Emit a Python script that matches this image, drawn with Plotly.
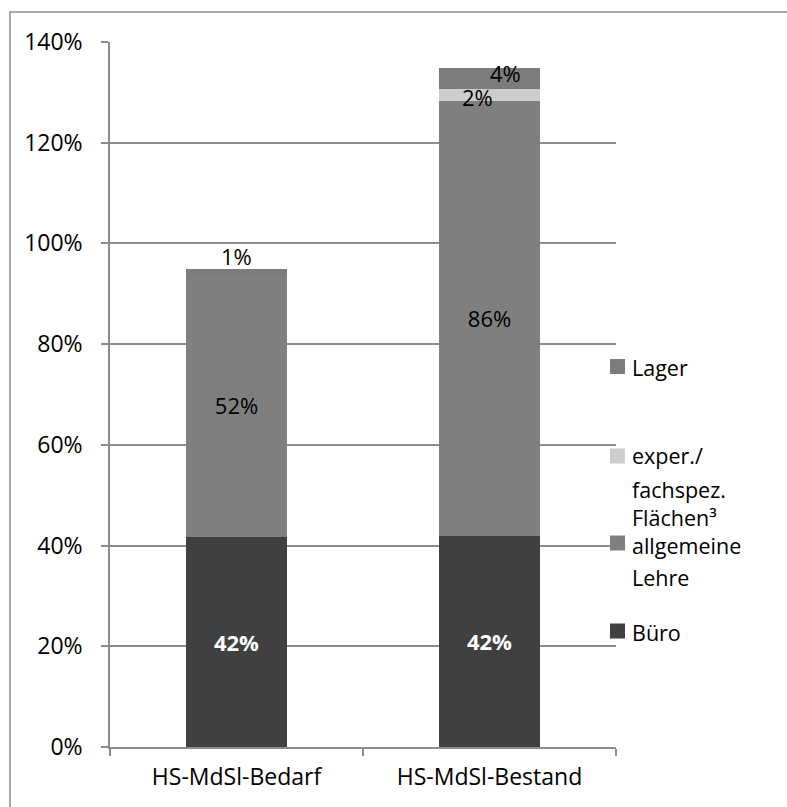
import plotly.graph_objects as go

categories = ["HS-MdSl-Bedarf", "HS-MdSl-Bestand"]
buero = [0.417, 0.42]
lehre = [0.523, 0.863]
exper = [0.0, 0.024]
lager = [0.01, 0.042]
buero_lbl = ["42%", "42%"]
lehre_lbl = ["52%", "86%"]
exper_lbl = ["", "2%"]
lager_lbl = ["1%", "4%"]
yticks = [0, 0.2, 0.4, 0.6, 0.8, 1.0, 1.2, 1.4]

FONT = "Open Sans"
FS = 23
LFS = 21.5
C_BUERO = "#404040"
C_LEHRE = "#7f7f7f"
C_EXPER = "#cdcdcd"
C_LAGER = "#7c7c7c"
GRID = "#8c8c8c"

fig = go.Figure()
fig.add_trace(go.Bar(x=categories, y=buero, marker_color=C_BUERO, text=buero_lbl,
                     textposition="inside", insidetextanchor="middle",
                     textfont=dict(color="white", size=FS - 1, family=FONT, weight="bold"),
                     name="Büro", showlegend=False))
fig.add_trace(go.Bar(x=categories, y=lehre, marker_color=C_LEHRE, text=lehre_lbl,
                     textposition="inside", insidetextanchor="middle",
                     textfont=dict(color="black", size=FS - 1, family=FONT),
                     name="allgemeine Lehre", showlegend=False))
fig.add_trace(go.Bar(x=categories, y=exper, marker_color=C_EXPER, textposition="none",
                     name="exper./ fachspez. Flächen³", showlegend=False))
fig.add_trace(go.Bar(x=categories, y=lager, marker_color=C_LAGER, textposition="none",
                     name="Lager", showlegend=False))
for tr in fig.data:
    tr.marker.line.width = 0
    tr.width = 0.4

# small-segment labels
tot0 = buero[0] + lehre[0] + exper[0] + lager[0]
fig.add_annotation(x=categories[0], y=tot0, text=lager_lbl[0], showarrow=False,
                   yanchor="bottom", yshift=-4, font=dict(size=FS - 1, family=FONT, color="black"))
base1 = buero[1] + lehre[1]
fig.add_annotation(x=categories[1], y=base1 + exper[1] / 2, text=exper_lbl[1], showarrow=False,
                   xshift=-12, yshift=-2, font=dict(size=FS - 1, family=FONT, color="black"))
fig.add_annotation(x=categories[1], y=base1 + exper[1] + lager[1] / 2, text=lager_lbl[1], showarrow=False,
                   xshift=16, yshift=5, font=dict(size=FS - 1, family=FONT, color="black"))

# manual legend (pixel -> paper)
L, T, W, H = 110, 42, 506, 705
def px(x):
    return (x - L) / W
def py(y):
    return (T + H - y) / H

legend_items = [
    (C_LAGER, 366.5, [("Lager", 367)]),
    (C_EXPER, 456, [("exper./", 455), ("fachspez.", 489), ("Flächen³", 517)]),
    (C_LEHRE, 543, [("allgemeine", 545), ("Lehre", 577)]),
    (C_BUERO, 631, [("Büro", 632)]),
]
for col, yc, lines in legend_items:
    fig.add_shape(type="rect", xref="paper", yref="paper",
                  x0=px(610), x1=px(625), y0=py(yc + 7.5), y1=py(yc - 7.5),
                  fillcolor=col, line_width=0, layer="above")
    for ln, yl in lines:
        fig.add_annotation(xref="paper", yref="paper", x=px(630), y=py(yl),
                           text=ln, showarrow=False, xanchor="left", yanchor="middle",
                           font=dict(size=LFS, family=FONT, color="black"))

# outer border
fig.add_shape(type="rect", xref="paper", yref="paper",
              x0=px(10), x1=px(800), y0=py(820), y1=py(12),
              line=dict(color="#8a8a8a", width=1.5), fillcolor="rgba(0,0,0,0)")

fig.update_layout(
    width=787, height=807, barmode="stack", bargap=0.6,
    margin=dict(l=L, r=787 - L - W, t=T, b=807 - T - H),
    plot_bgcolor="white", paper_bgcolor="white",
    font=dict(family=FONT, size=FS, color="black"),
    showlegend=False,
)
fig.update_yaxes(range=[0, 1.4], tickvals=yticks, tickformat=".0%",
                 showgrid=True, gridcolor=GRID, gridwidth=1.5,
                 showline=True, linecolor=GRID, linewidth=1.5,
                 ticks="outside", ticklen=7, tickcolor=GRID, tickwidth=1.5,
                 ticklabelstandoff=14, zeroline=False,
                 tickfont=dict(size=FS, family=FONT, color="black"))
fig.update_xaxes(showline=True, linecolor=GRID, linewidth=1.5,
                 ticks="outside", tickson="boundaries", ticklen=7, tickcolor=GRID, tickwidth=1.5,
                 ticklabelstandoff=9, showgrid=False,
                 tickfont=dict(size=FS, family=FONT, color="black"))

fig.write_html("out.html")
